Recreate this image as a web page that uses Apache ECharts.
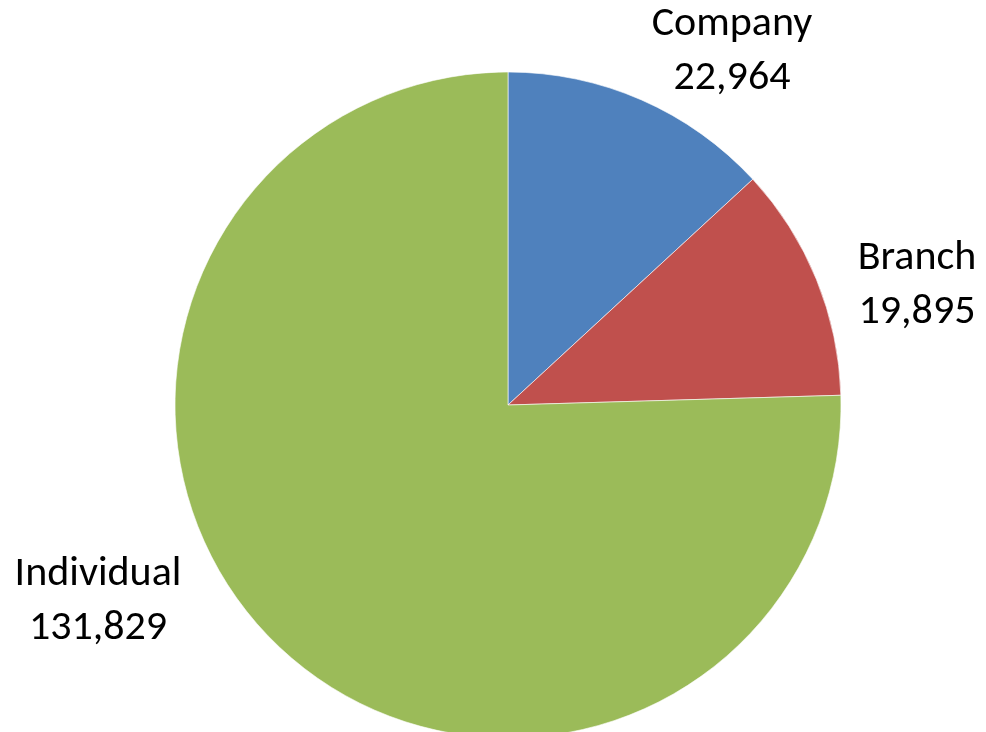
<!DOCTYPE html>
<html>
<head>
<meta charset="utf-8">
<script src="https://cdn.jsdelivr.net/npm/echarts@6/dist/echarts.min.js"></script>
<style>
  html, body { margin: 0; padding: 0; background: #fff; }
  #main { width: 986px; height: 732px; }
</style>
</head>
<body>
<div id="main"></div>
<script>
var categories = ['Company', 'Branch', 'Individual'];
var values = [22964, 19895, 131829];
var colors = ['#4F81BD', '#C0504D', '#9BBB59'];
// label block centres (px), Excel places them by hand
var labelX = [732, 917, 98];
var labelY = [51, 285, 601];

var chart = echarts.init(document.getElementById('main'));

var pieData = [];
for (var i = 0; i < categories.length; i++) {
    pieData.push({
        name: categories[i],
        value: values[i],
        itemStyle: { color: colors[i] }
    });
}

chart.setOption({
    backgroundColor: '#ffffff',
    animation: false,
    series: [{
        type: 'pie',
        center: [508, 405],
        radius: 333,
        startAngle: 90,
        clockwise: true,
        data: pieData,
        itemStyle: {
            borderColor: 'rgba(255,255,255,0.6)',
            borderWidth: 1
        },
        label: {
            show: true,
            position: 'outside',
            overflow: 'none',
            formatter: function (p) {
                return p.name + '\n' + p.value.toLocaleString('en-US');
            },
            fontFamily: 'Carlito, Calibri, Lato, sans-serif',
            fontSize: 42,
            lineHeight: 54,
            color: '#000',
            align: 'center'
        },
        labelLine: { show: false },
        labelLayout: function (params) {
            var i = params.dataIndex;
            return {
                x: labelX[i],
                y: labelY[i],
                align: 'center',
                verticalAlign: 'middle'
            };
        }
    }]
});
</script>
</body>
</html>
